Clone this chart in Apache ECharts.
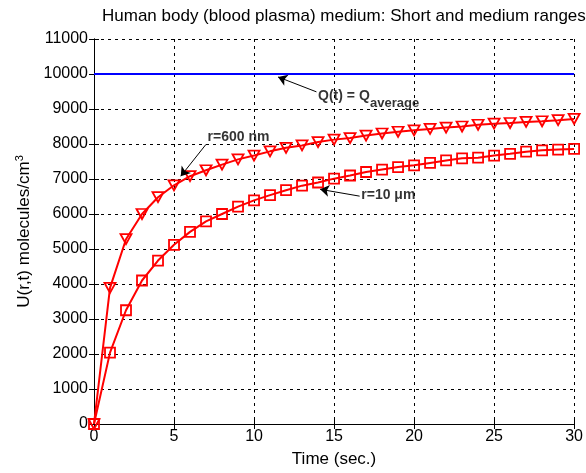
<!DOCTYPE html>
<html><head><meta charset="utf-8">
<script src="https://cdn.jsdelivr.net/npm/echarts@6/dist/echarts.min.js"></script>
<style>html,body{margin:0;padding:0;background:#fff}#c{width:586px;height:473px}</style>
</head><body><div id="c"></div>
<script>
// ---- data ----
const timeSec = [0,1,2,3,4,5,6,7,8,9,10,11,12,13,14,15,16,17,18,19,20,21,22,23,24,25,26,27,28,29,30];
const r600nm = [0,3890,5280,6000,6480,6820,7080,7250,7410,7560,7670,7790,7890,7960,8055,8125,8170,8240,8300,8350,8390,8430,8470,8500,8550,8580,8600,8630,8650,8680,8715];
const r10um  = [0,2040,3250,4100,4670,5120,5490,5790,6000,6210,6390,6540,6680,6810,6900,7010,7100,7200,7270,7340,7390,7460,7530,7590,7610,7670,7720,7780,7820,7840,7860];
const qAverage = [[0,10000],[30,10000]];
const xTicks = [0,5,10,15,20,25,30];
const yTicks = [0,1000,2000,3000,4000,5000,6000,7000,8000,9000,10000,11000];
const titleText = 'Human body (blood plasma) medium: Short and medium ranges';
const xName = 'Time (sec.)';
// annotations: [x, y, text]
const annoTexts = [
  [14.0, 9380, 'Q(t) = Q'],
  [17.25, 9150, 'average'],
  [7.1, 8200, 'r=600 nm'],
  [16.7, 6530, 'r=10 μm']
];
// arrows: [[tailX,tailY],[headX,headY]]
const annoArrows = [
  [[13.9,9490],[11.5,9915]],
  [[7.0,7990],[5.42,7080]],
  [[16.6,6510],[14.13,6705]]
];

const chart = echarts.init(document.getElementById('c'), null, {renderer:'canvas'});
const font = 'Liberation Sans, Arial, sans-serif';
const gridLine = {show:true, lineStyle:{color:'#000', type:[3,4], width:1}};
const option = {
  animation:false,
  backgroundColor:'#fff',
  title:{text:titleText, left:97, top:3, textStyle:{fontFamily:font, fontSize:17, fontWeight:'normal', color:'#000'}},
  grid:{left:94, top:39, right:9, bottom:47, containLabel:false},
  xAxis:[{
    type:'value', min:0, max:30, interval:5,
    name:xName, nameLocation:'middle', nameGap:27,
    nameTextStyle:{fontFamily:font, fontSize:17, color:'#000'},
    axisLine:{show:true, lineStyle:{color:'#000', width:1}},
    axisTick:{show:true, inside:true, length:5, lineStyle:{color:'#000'}},
    axisLabel:{fontFamily:font, fontSize:16, color:'#000', margin:5,
      formatter:v=>xTicks.includes(v)?String(v):''},
    splitLine:gridLine
  },{
    type:'value', min:0, max:30, interval:5, position:'top',
    axisLine:{show:true, lineStyle:{color:'#000', width:1}},
    axisTick:{show:true, inside:true, length:5, lineStyle:{color:'#000'}},
    axisLabel:{show:false}, splitLine:{show:false}
  }],
  yAxis:[{
    type:'value', min:0, max:11000, interval:1000,
    name:'{t|U(r,t) molecules/cm}{s|3}', nameLocation:'middle', nameGap:58, nameRotate:90,
    nameTextStyle:{rich:{
      t:{fontFamily:font, fontSize:17, color:'#000'},
      s:{fontFamily:font, fontSize:11, color:'#000', verticalAlign:'top', padding:[0,0,8,0]}
    }},
    axisLine:{show:true, lineStyle:{color:'#000', width:1}},
    axisTick:{show:true, inside:true, length:5, lineStyle:{color:'#000'}},
    axisLabel:{fontFamily:font, fontSize:16, color:'#000', margin:6,
      formatter:v=>yTicks.includes(v)?String(v):''},
    splitLine:gridLine
  },{
    type:'value', min:0, max:11000, interval:1000, position:'right',
    axisLine:{show:true, lineStyle:{color:'#000', width:1}},
    axisTick:{show:true, inside:true, length:5, lineStyle:{color:'#000'}},
    axisLabel:{show:false}, splitLine:{show:false}
  }],
  series:[
    {type:'line', data:qAverage, showSymbol:false, symbol:'none',
     lineStyle:{color:'#0000ff', width:2}, z:3},
    {type:'line', data:timeSec.map((t,i)=>[t,r600nm[i]]), symbol:'triangle', symbolRotate:180, symbolSize:[11,10],
     itemStyle:{color:'rgba(255,255,255,0)', borderColor:'#ff0000', borderWidth:1.8},
     lineStyle:{color:'#ff0000', width:2}, z:4},
    {type:'line', data:timeSec.map((t,i)=>[t,r10um[i]]), symbol:'rect', symbolSize:10,
     itemStyle:{color:'rgba(255,255,255,0)', borderColor:'#ff0000', borderWidth:1.8},
     lineStyle:{color:'#ff0000', width:2}, z:4},
    {type:'lines', coordinateSystem:'cartesian2d', z:6,
     symbol:['none','arrow'], symbolSize:9,
     lineStyle:{color:'#000', width:1, opacity:1},
     data:annoArrows.map(a=>({coords:a}))},
    {type:'scatter', symbolSize:0, z:7,
     data:annoTexts.map(a=>({value:[a[0],a[1]], label:{formatter:a[2], fontSize: a[2]==='average'?13:14}})),
     label:{show:true, position:'right', distance:0, fontFamily:font, fontWeight:'bold', color:'#000'}}
  ]
};
chart.setOption(option);
</script></body></html>
